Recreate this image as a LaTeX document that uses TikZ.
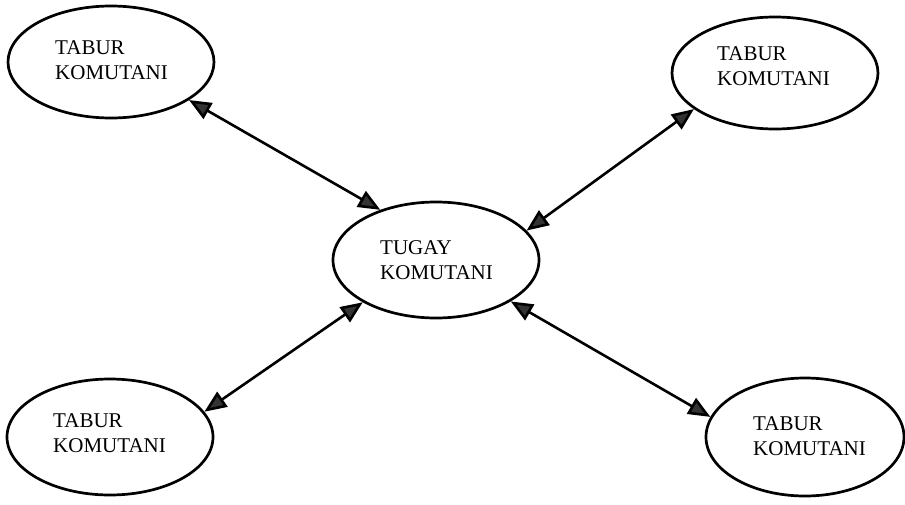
\documentclass[tikz,border=0pt]{standalone}
\usepackage{fontspec}
\setmainfont{Liberation Serif}
\usetikzlibrary{shapes.geometric,arrows.meta}
\begin{document}
\begin{tikzpicture}[x=1pt,y={(0pt,-1pt)},
  unit/.style={ellipse,draw,line width=2.7pt,inner sep=0pt,
    minimum width=206pt,minimum height=112pt},
  caption/.style={anchor=base west,inner sep=0pt,align=left,
    font=\fontsize{21}{25}\selectfont},
  link/.style={line width=2.6pt,
    {Triangle[length=22pt,width=18pt,fill=black!80]}-{Triangle[length=22pt,width=18pt,fill=black!80]}}]
\useasboundingbox (0,0) rectangle (905,504);
% ellipses
\node[unit] (tl) at (111,62) {};
\node[unit] (tr) at (775,73) {};
\node[unit,minimum height=116pt] (c) at (436,260) {};
\node[unit,minimum height=116pt] (bl) at (110,437) {};
\node[unit,minimum width=198pt,minimum height=118pt] (br) at (805,437) {};
% captions (anchored on the baseline of the last line)
\node[caption] (tlt) at (55,79) {TABUR\\KOMUTANI};
\node[caption] (trt) at (717,85) {TABUR\\KOMUTANI};
\node[caption] (ct) at (380,279) {TUGAY\\KOMUTANI};
\node[caption] (blt) at (53,452) {TABUR\\KOMUTANI};
\node[caption] (brt) at (753,455) {TABUR\\KOMUTANI};
% two-way links to the centre
\draw[link] (tl.-26) -- (c.138);
\draw[link] (tr.204) -- (c.18);
\draw[link] (bl.15) -- (c.210);
\draw[link] (br.168) -- (c.-29);
\end{tikzpicture}
\end{document}
